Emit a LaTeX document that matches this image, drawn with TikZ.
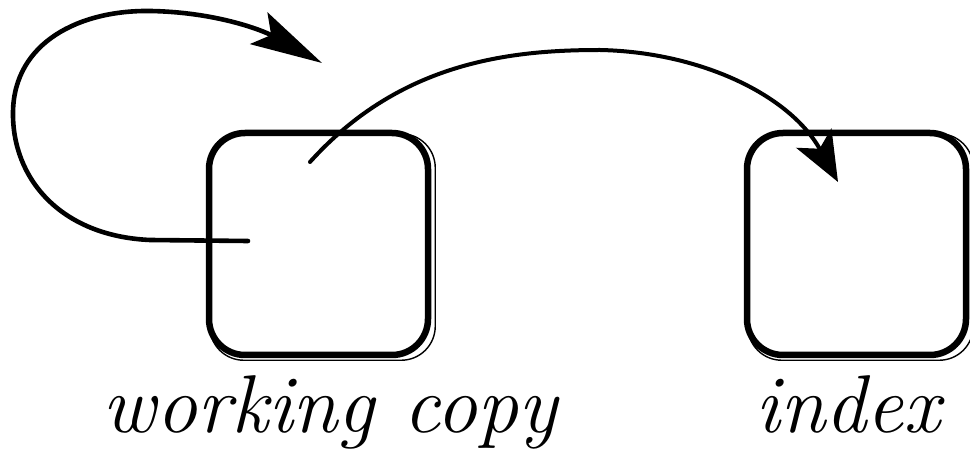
\documentclass[tikz,border=0pt]{standalone}
\usetikzlibrary{arrows.meta}
\begin{document}
\begin{tikzpicture}[x=1pt,y=-1pt,
  box/.style={draw=black, line width=6.5pt, rounded corners=36pt, minimum width=219pt, minimum height=222pt, inner sep=0pt},
  sketchline/.style={draw=black, line width=1.4pt, rounded corners=34pt},
  lbl/.style={font=\fontsize{82}{90}\selectfont\itshape, inner sep=0pt, anchor=base},
  flow/.style={draw=black, line width=4.6pt, line cap=round}
]
\useasboundingbox (0,0) rectangle (970,462);
\node[box] (wc) at (318.5,244) {};
\node[box] (ix) at (856.5,244) {};
\path[sketchline] ([shift={(4pt,-4pt)}]wc.north west) rectangle ([shift={(4pt,-2pt)}]wc.south east);
\path[sketchline] ([shift={(4pt,-4pt)}]ix.north west) rectangle ([shift={(4pt,-2pt)}]ix.south east);
\node[lbl] (wcl) at (330,432) {working copy};
\node[lbl] (ixl) at (848,432) {index};
\coordinate (loopstart) at (248,241);
\coordinate (looptip) at (322,63);
\coordinate (movestart) at (310,162);
\coordinate (movetip) at (838,182);
\draw[flow, -{Stealth[length=72pt,width=36pt,inset=14pt]}]
  (loopstart) -- (150,240) .. controls (60,236) and (12,178) .. (13,112)
  .. controls (14,42) and (80,10) .. (150,11)
  .. controls (215,12) and (262,30) .. (looptip);
\draw[flow, line width=4pt, -{Stealth[length=50pt,width=40pt,inset=12pt]}]
  (movestart) .. controls (400,62) and (510,50) .. (600,50)
  .. controls (700,52) and (790,95) .. (movetip);
\end{tikzpicture}
\end{document}
